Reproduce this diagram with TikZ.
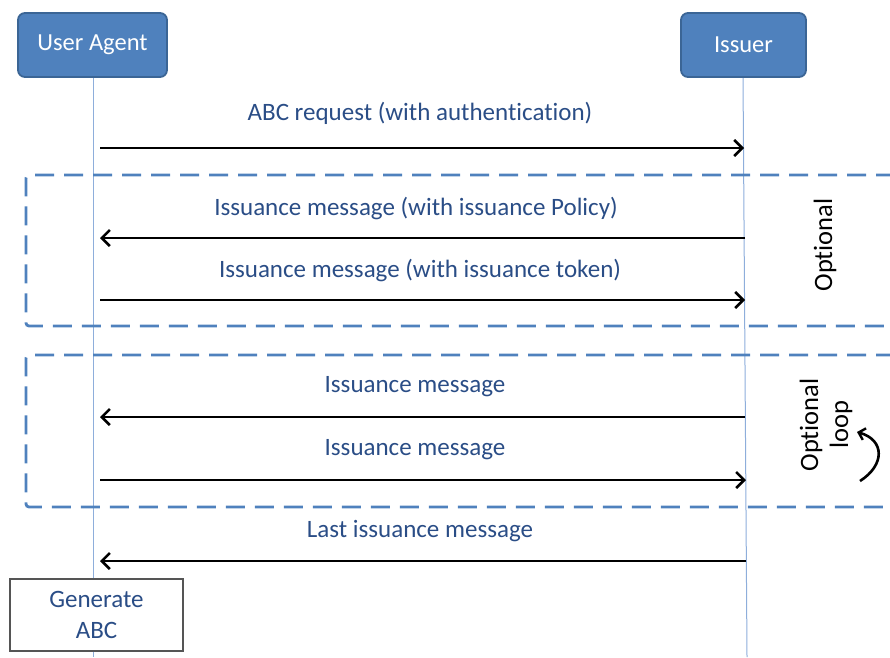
\documentclass[tikz,border=0pt]{standalone}
\usepackage{fontspec}
\setmainfont{Carlito}[Ligatures=NoCommon]
\usetikzlibrary{arrows.meta}
\definecolor{boxblue}{HTML}{4F81BD}
\definecolor{boxedge}{HTML}{3B6595}
\definecolor{lifeblue}{HTML}{8EAEDB}
\definecolor{labelblue}{HTML}{2A4D86}
\definecolor{grayedge}{HTML}{555555}
\tikzset{
  actor/.style={draw=boxedge, line width=1.8pt, fill=boxblue, rounded corners=7pt, text=white, font=\fontsize{24.5}{28}\selectfont, minimum height=64pt, inner sep=0pt},
  lifeline/.style={draw=lifeblue, line width=1pt},
  msg/.style={draw=black, line width=2.8pt, -{Straight Barb[length=8pt,width=16pt,line width=2.6pt]}},
  msglabel/.style={text=labelblue, font=\fontsize{25}{28}\selectfont, inner sep=0pt},
  frame/.style={draw=boxblue, line width=2.8pt, dash pattern=on 19pt off 10pt, rounded corners=3pt},
  side/.style={text=black, font=\fontsize{26.5}{30}\selectfont, rotate=90, align=center, inner sep=0pt},
  genbox/.style={draw=grayedge, line width=1.2pt, fill=white, text=labelblue, font=\fontsize{25}{31}\selectfont, align=center, minimum width=173pt, minimum height=72pt, inner sep=0pt}
}
\begin{document}
\begin{tikzpicture}[x=1pt,y=-1pt]
\useasboundingbox (0,0) rectangle (890,657);
% lifelines
\coordinate (uatop) at (93,77);
\coordinate (uabot) at (93,657);
\coordinate (istop) at (743,77);
\coordinate (isbot) at (747,657);
\draw[lifeline] (uatop) -- (uabot);
\draw[lifeline] (istop) -- (isbot);
% actors
\node[actor, minimum width=149pt] (ua) at (92.5,45) {User Agent};
\node[actor, minimum width=125pt] (is) at (743.5,45) {Issuer};
% frames
\draw[frame] (895,175) -- (26,175) -- (26,326) -- (895,326);
\draw[frame] (895,355) -- (26,355) -- (26,507) -- (895,507);
% messages
\coordinate (a1) at (100,148); \coordinate (b1) at (744,148);
\coordinate (a2) at (100,238); \coordinate (b2) at (745,238);
\coordinate (a3) at (100,300); \coordinate (b3) at (745,300);
\coordinate (a4) at (100,417); \coordinate (b4) at (745,417);
\coordinate (a5) at (100,480); \coordinate (b5) at (746,480);
\coordinate (a6) at (100,561); \coordinate (b6) at (746,561);
\draw[msg] (a1) -- (b1);
\draw[msg] (b2) -- (a2);
\draw[msg] (a3) -- (b3);
\draw[msg] (b4) -- (a4);
\draw[msg] (a5) -- (b5);
\draw[msg] (b6) -- (a6);
\node[msglabel] (l1) at (420,113) {ABC request (with authentication)};
\node[msglabel] (l2) at (416,208) {Issuance message (with issuance Policy)};
\node[msglabel] (l3) at (420,270) {Issuance message (with issuance token)};
\node[msglabel] (l4) at (415,387) {Issuance message};
\node[msglabel] (l5) at (415,450) {Issuance message};
\node[msglabel] (l6) at (420,531) {Last issuance message};
% side labels
\node[side] (opt1) at (825,245) {Optional};
\node[side] (opt2) at (826,425) {Optional\\loop};
\coordinate (lpa) at (860,481);
\coordinate (lpb) at (857,432);
\draw[black, line width=2.6pt, -{Straight Barb[length=6pt,width=12pt,line width=2.4pt]}] (lpa) .. controls (885,465) and (885,440) .. (lpb);
% generate box
\node[genbox] (gen) at (96.5,615) {Generate\\ABC};
\end{tikzpicture}
\end{document}
